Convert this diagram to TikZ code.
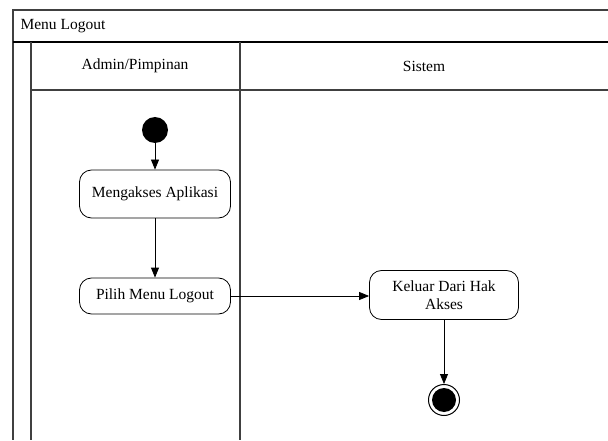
\documentclass[tikz,border=0pt]{standalone}
\usepackage{fontspec}
\setmainfont{Liberation Serif}
\usetikzlibrary{arrows.meta}
\begin{document}
\begin{tikzpicture}[
    x=1pt, y=-1pt,
    lane/.style={draw=black!75, line width=1.2pt},
    act/.style={rectangle, rounded corners=12pt, draw=black, line width=0.8pt, minimum width=151pt, text centered, align=center, font=\fontsize{15.5}{18}\selectfont},
    lbl/.style={font=\fontsize{15.5}{18}\selectfont},
    flow/.style={-{Triangle[length=10pt,width=8pt]}, line width=0.8pt}
  ]
    \useasboundingbox (0,0) rectangle (608,441);

    % swimlane frame
    \draw[lane] (608,10) -- (13,10) -- (13,440);
    \draw[black, line width=1.2pt] (13,42) -- (608,42);
    \draw[lane] (31,42) -- (31,440);
    \draw[lane] (240,42) -- (240,440);
    \draw[lane] (31,90) -- (608,90);

    \node[lbl, anchor=west] (title) at (17,26) {Menu Logout};
    \node[lbl] (admin) at (135,66) {Admin/Pimpinan};
    \node[lbl] (sistem) at (424,66) {Sistem};

    % activities
    \node[circle, fill=black, minimum size=26pt, inner sep=0pt] (start) at (155,130) {};
    \node[act, minimum height=48pt] (akses) at (155,194) {Mengakses Aplikasi};
    \node[act, minimum height=36pt] (logout) at (155,296) {Pilih Menu Logout};
    \node[act, minimum width=149pt, minimum height=49pt] (keluar) at (444,295) {Keluar Dari Hak\\Akses};
    \node[circle, draw=black, line width=1pt, minimum size=31pt, inner sep=0pt] (end) at (444,400) {};
    \node[circle, fill=black, minimum size=24pt, inner sep=0pt] (endin) at (end) {};

    \draw[flow] (start) -- (akses);
    \draw[flow] (akses) -- (logout);
    \draw[flow] (logout) -- (logout -| keluar.west);
    \draw[flow] (keluar) -- (end);

\end{tikzpicture}
\end{document}
